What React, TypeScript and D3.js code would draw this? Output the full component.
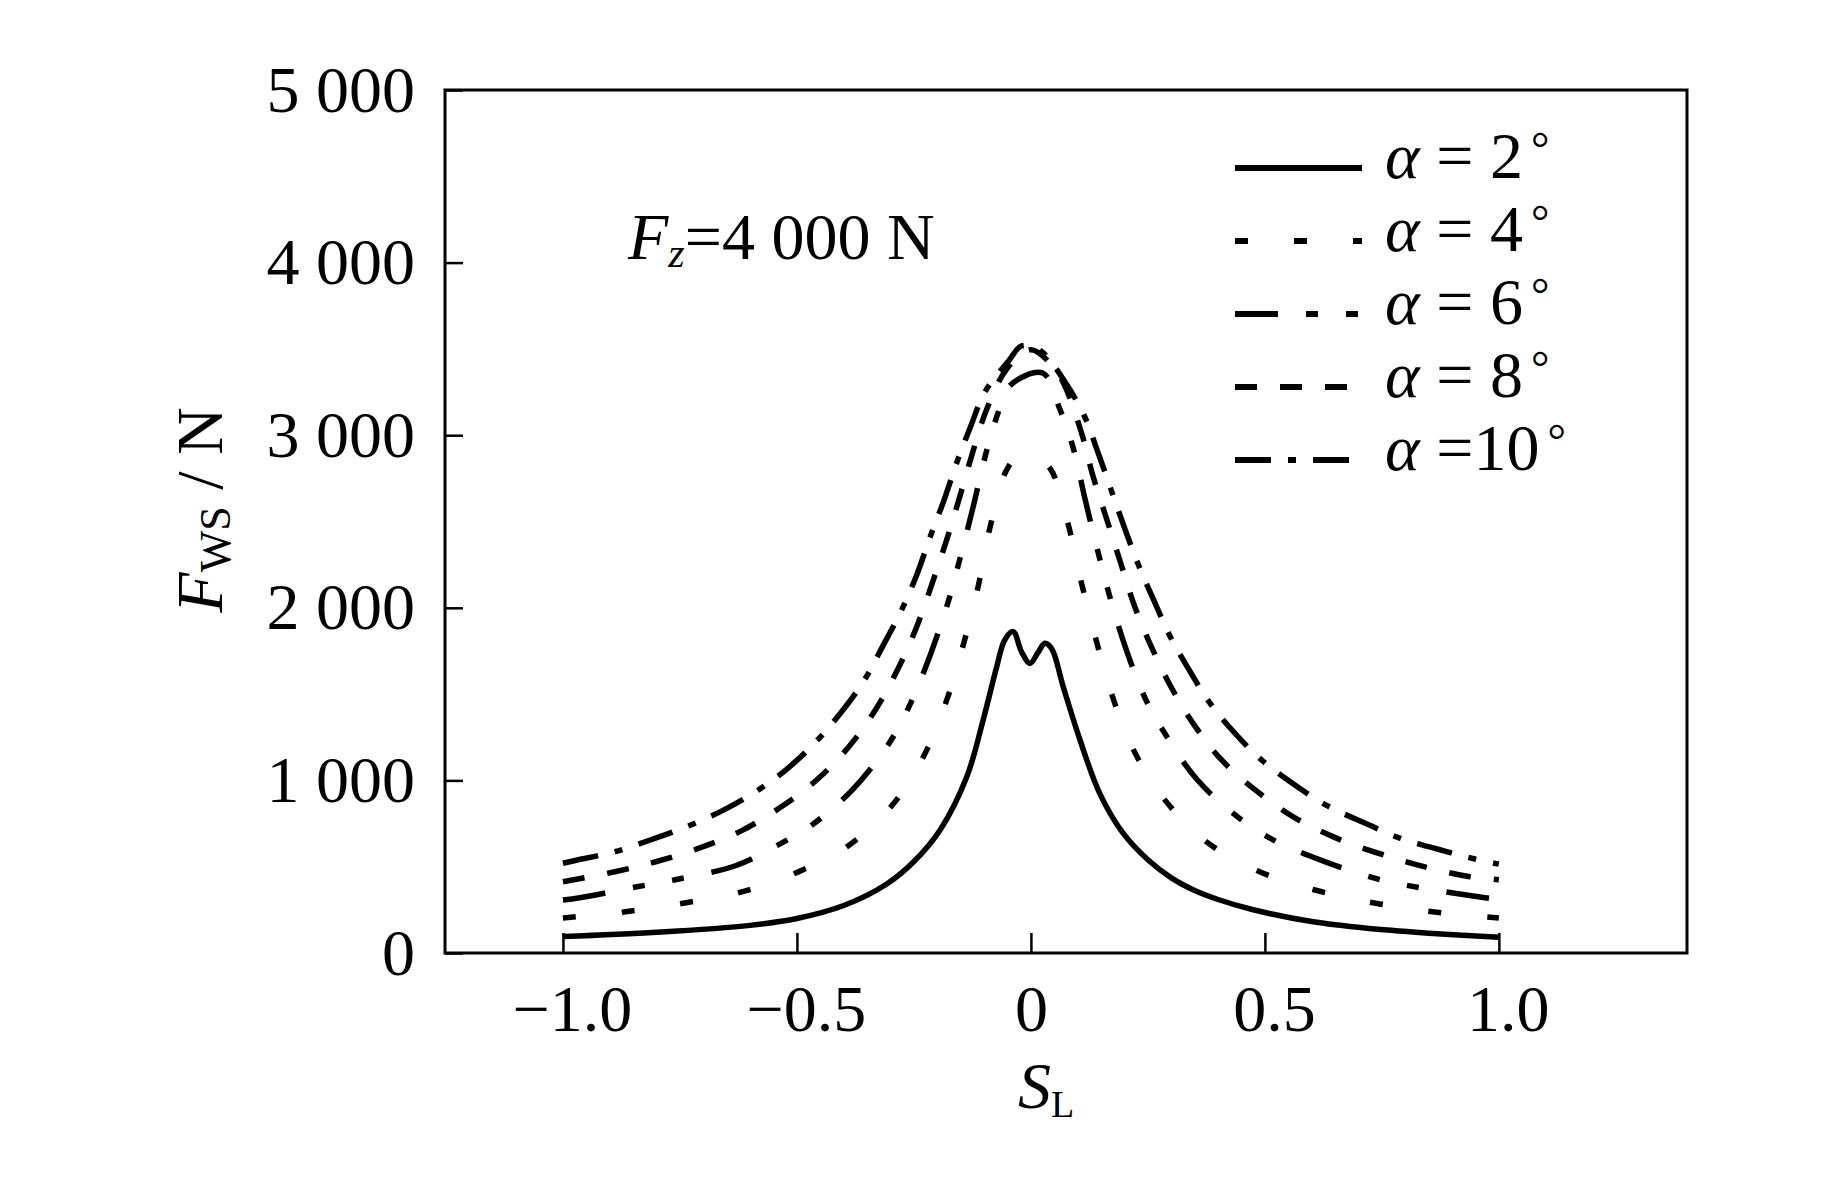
import * as d3 from 'd3'
import { useEffect, useRef } from 'react'

const W = 1843
const H = 1181
const margin = { top: 90, right: 156, bottom: 228, left: 445 }
const FONT = '"Liberation Serif", "Times New Roman", serif'

// S_L vs F_ws for each slip angle
const alpha2: [number, number][] = [
  [-1.0, 95], [-0.8, 120], [-0.6, 160], [-0.5, 200], [-0.4, 275], [-0.308, 400],
  [-0.25, 530], [-0.194, 713], [-0.137, 1021], [-0.102, 1350], [-0.073, 1659],
  [-0.056, 1813], [-0.038, 1862], [-0.02, 1745], [-0.002, 1678], [0.015, 1740],
  [0.03, 1794], [0.045, 1760], [0.069, 1543], [0.105, 1234], [0.147, 925],
  [0.197, 694], [0.25, 540], [0.3, 435], [0.35, 362], [0.4, 310], [0.473, 252],
  [0.6, 182], [0.718, 143], [0.85, 115], [1.0, 91],
]
const alpha4: [number, number][] = [
  [-1.0, 203], [-0.87, 238], [-0.74, 290], [-0.62, 353], [-0.497, 470], [-0.39, 622],
  [-0.3, 844], [-0.229, 1141], [-0.179, 1472], [-0.143, 1800], [-0.112, 2132],
  [-0.087, 2470], [-0.052, 2798], [-0.025, 2880], [0.035, 2827], [0.078, 2499],
  [0.106, 2167], [0.137, 1838], [0.172, 1505], [0.216, 1195], [0.279, 912],
  [0.372, 651], [0.484, 477], [0.607, 365], [0.731, 291], [0.858, 239], [1.0, 203],
]
const alpha6: [number, number][] = [
  [-1.0, 307], [-0.964, 320], [-0.857, 376], [-0.763, 423], [-0.63, 507], [-0.543, 622],
  [-0.47, 738], [-0.382, 944], [-0.305, 1207], [-0.262, 1418], [-0.215, 1727],
  [-0.177, 2032], [-0.155, 2250], [-0.125, 2567], [-0.097, 2885], [-0.073, 3107],
  [-0.046, 3285], [0.025, 3360], [0.062, 3150], [0.09, 2930], [0.117, 2615],
  [0.145, 2306], [0.167, 2080], [0.202, 1771], [0.244, 1477], [0.286, 1273],
  [0.354, 1008], [0.443, 786], [0.518, 655], [0.628, 529], [0.74, 429], [0.826, 381],
  [0.945, 330], [1.0, 310],
]
const alpha8: [number, number][] = [
  [-1.0, 413], [-0.889, 471], [-0.796, 533], [-0.706, 610], [-0.618, 709], [-0.535, 844],
  [-0.458, 1002], [-0.389, 1195], [-0.331, 1414], [-0.284, 1647], [-0.244, 1890],
  [-0.211, 2142], [-0.18, 2393], [-0.152, 2644], [-0.125, 2895], [-0.095, 3146],
  [-0.05, 3390], [0.0, 3495], [0.04, 3420], [0.07, 3300], [0.108, 3014], [0.133, 2760],
  [0.163, 2505], [0.192, 2258], [0.222, 2006], [0.259, 1765], [0.301, 1534],
  [0.35, 1317], [0.409, 1114], [0.484, 935], [0.566, 780], [0.654, 664], [0.747, 574],
  [0.84, 500], [0.938, 442], [1.0, 425],
]
const alpha10: [number, number][] = [
  [-1.0, 520], [-0.969, 539], [-0.889, 587], [-0.809, 659], [-0.732, 736], [-0.657, 828],
  [-0.588, 935], [-0.524, 1060], [-0.466, 1205], [-0.41, 1379], [-0.358, 1572],
  [-0.316, 1781], [-0.278, 1978], [-0.244, 2190], [-0.216, 2406], [-0.186, 2621],
  [-0.159, 2837], [-0.129, 3049], [-0.098, 3252], [-0.046, 3436], [-0.02, 3517],
  [0.02, 3490], [0.075, 3300], [0.115, 3107], [0.144, 2895], [0.172, 2679],
  [0.201, 2456], [0.229, 2254], [0.263, 2041], [0.297, 1837], [0.339, 1636],
  [0.382, 1450], [0.435, 1276], [0.493, 1118], [0.561, 979], [0.634, 852], [0.712, 755],
  [0.79, 664], [0.87, 601], [0.951, 543], [1.0, 515],
]

const series = [alpha2, alpha4, alpha6, alpha8, alpha10]
const seriesLabels = ['2', '4', '6', '8', '10']
const dashPatterns = [null, '13 46', '43 28 12 28 12 28', '22 23', '36 17 8 17']
const xTicks = [-1, -0.5, 0, 0.5, 1]
const yTicks = [0, 1000, 2000, 3000, 4000, 5000]

export default function App() {
  const ref = useRef<SVGSVGElement>(null)

  useEffect(() => {
    const svg = d3.select(ref.current)
    svg.selectAll('*').remove()

    const x = d3
      .scaleLinear()
      .domain([-1.252, 1.402])
      .range([margin.left, W - margin.right])
    const y = d3
      .scaleLinear()
      .domain([0, 5000])
      .range([H - margin.bottom, margin.top])

    // frame
    svg
      .append('rect')
      .attr('x', margin.left)
      .attr('y', margin.top)
      .attr('width', W - margin.left - margin.right)
      .attr('height', H - margin.top - margin.bottom)
      .attr('fill', 'none')
      .attr('stroke', '#000')
      .attr('stroke-width', 3)

    const xAxis = d3
      .axisBottom(x)
      .tickValues(xTicks)
      .tickSizeInner(-20)
      .tickSizeOuter(0)
      .tickPadding(31)
      .tickFormat((d) => (+d === 0 ? '0' : d3.format('.1f')(+d)))
    const gx = svg
      .append('g')
      .attr('transform', `translate(0,${y(0)})`)
      .call(xAxis)
      .attr('font-family', FONT)
      .attr('font-size', 66)
    gx.select('.domain').remove()
    gx.selectAll('line').attr('stroke', '#000').attr('stroke-width', 2.5)
    gx.selectAll<SVGTextElement, number>('text')
      .attr('fill', '#000')
      .attr('dx', (d) => (d === 0 ? 0 : 9))

    const yAxis = d3
      .axisLeft(y)
      .tickValues(yTicks)
      .tickSizeInner(-18)
      .tickSizeOuter(0)
      .tickPadding(30)
      .tickFormat((d) => (+d === 0 ? '0' : `${+d / 1000} 000`))
    const gy = svg
      .append('g')
      .attr('transform', `translate(${margin.left},0)`)
      .call(yAxis)
      .attr('font-family', FONT)
      .attr('font-size', 66)
    gy.select('.domain').remove()
    gy.selectAll('line').attr('stroke', '#000').attr('stroke-width', 2.5)
    gy.selectAll('text').attr('fill', '#000')

    // curves
    const line = d3
      .line<[number, number]>()
      .x((d) => x(d[0]))
      .y((d) => y(d[1]))
      .curve(d3.curveCatmullRom.alpha(0.5))

    series.forEach((s, i) => {
      svg
        .append('path')
        .attr('d', line(s))
        .attr('fill', 'none')
        .attr('stroke', '#000')
        .attr('stroke-width', 5.5)
        .attr('stroke-dasharray', dashPatterns[i])
    })

    // legend
    const lx0 = 1235
    const lx1 = 1362
    const ly0 = 168
    const lstep = 73
    seriesLabels.forEach((lab, i) => {
      const ly = ly0 + i * lstep
      svg
        .append('line')
        .attr('x1', lx0)
        .attr('x2', lx1)
        .attr('y1', ly)
        .attr('y2', ly)
        .attr('stroke', '#000')
        .attr('stroke-width', 6)
        .attr('stroke-dasharray', dashPatterns[i])
      const t = svg
        .append('text')
        .attr('x', 1385)
        .attr('y', ly + 10)
        .attr('font-family', FONT)
        .attr('font-size', 66)
        .style('white-space', 'pre')
      t.append('tspan').attr('font-style', 'italic').text('α')
      t.append('tspan').text(lab.length > 1 ? ' =' + lab : ' = ' + lab)
      t.append('tspan').attr('font-size', 46).attr('dx', 8).attr('dy', -14).text('°')
    })

    // annotation
    const ann = svg
      .append('text')
      .attr('x', 628)
      .attr('y', 259)
      .attr('font-family', FONT)
      .attr('font-size', 66)
      .style('white-space', 'pre')
    ann.append('tspan').attr('font-style', 'italic').text('F')
    ann.append('tspan').attr('font-style', 'italic').attr('font-size', 42).attr('dy', 8).text('z')
    ann.append('tspan').attr('dy', -8).text('=4 000 N')

    // axis titles
    const xt = svg
      .append('text')
      .attr('x', 1046)
      .attr('y', 1108)
      .attr('text-anchor', 'middle')
      .attr('font-family', FONT)
      .attr('font-size', 66)
    xt.append('tspan').attr('font-style', 'italic').text('S')
    xt.append('tspan').attr('font-size', 38).attr('dy', 9).text('L')

    const yt = svg
      .append('text')
      .attr('transform', 'translate(222,510) rotate(-90)')
      .attr('text-anchor', 'middle')
      .attr('font-family', FONT)
      .attr('font-size', 66)
      .style('white-space', 'pre')
    yt.append('tspan').attr('font-style', 'italic').text('F')
    yt.append('tspan').attr('font-size', 44).attr('dy', 8).text('WS')
    yt.append('tspan').attr('dy', -8).text(' / N')
  }, [])

  return (
    <>
      <style>{`body { margin: 0; }`}</style>
      <svg
        ref={ref}
        width={W}
        height={H}
        style={{ display: 'block', background: '#fff' }}
      />
    </>
  )
}
